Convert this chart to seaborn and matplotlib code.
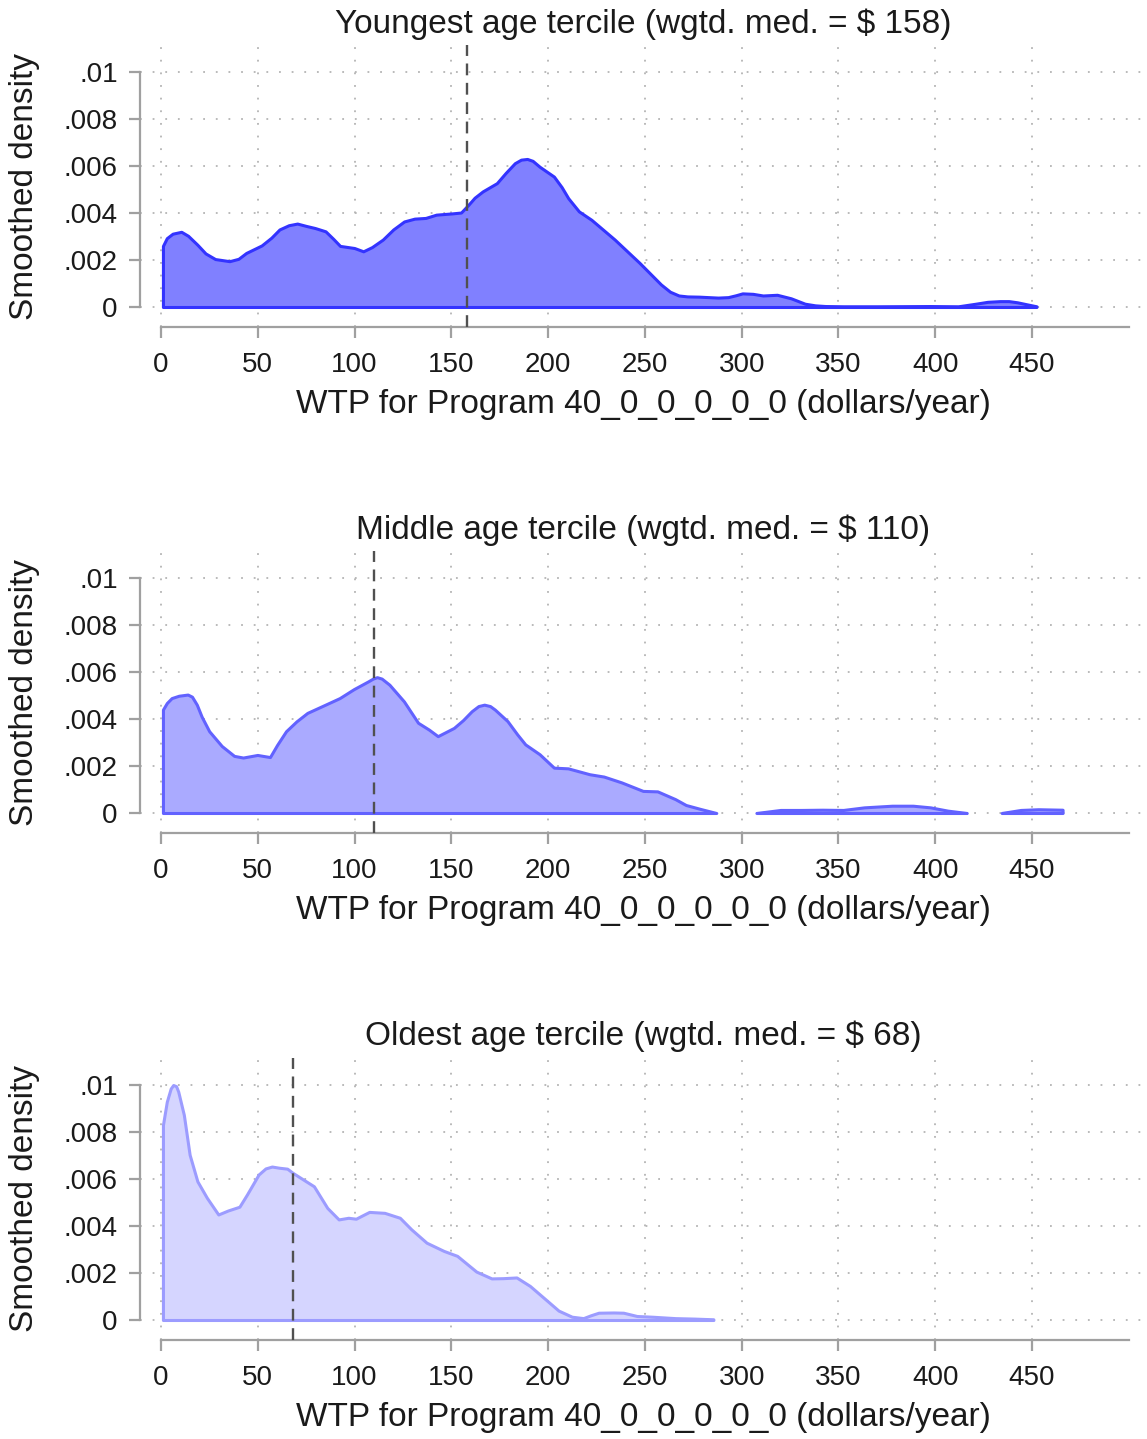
import numpy as np
import matplotlib
matplotlib.use("Agg")
import matplotlib.pyplot as plt
import seaborn as sns

# ---- data ----
young_x = [1, 3, 6, 10.5, 14, 18.8, 23, 28, 35.4, 40, 44, 52, 57, 61.2, 66, 70.4, 75, 79.6,
           85, 89, 92.5, 99.9, 104.5, 109, 114.6, 120, 125.6, 131, 136.7, 142.2, 150, 155,
           158.8, 162, 166.2, 173.5, 178, 182.8, 186, 189.2, 192, 195.6, 203, 207, 210.4,
           215.9, 222.4, 234.4, 247.2, 258.3, 263, 267.5, 272, 278, 287.8, 293, 297, 300.4,
           305.8, 311, 318.3, 325.5, 332.7, 338, 343.5, 352.5, 370.5, 397.5, 411.9, 420.9,
           427, 433.5, 438, 442.4, 447, 452.3]
young_y = [0.0026, 0.00293, 0.00312, 0.0032, 0.00303, 0.00265, 0.00228, 0.00204, 0.00195,
           0.00205, 0.0023, 0.00262, 0.00295, 0.0033, 0.00348, 0.00355, 0.00345, 0.00336,
           0.00322, 0.0029, 0.0026, 0.00251, 0.00237, 0.00255, 0.00287, 0.0033, 0.00364,
           0.00376, 0.00379, 0.00393, 0.00398, 0.00402, 0.00435, 0.00465, 0.00492, 0.00527,
           0.0057, 0.00612, 0.00627, 0.0063, 0.00622, 0.00597, 0.00555, 0.0051, 0.00463,
           0.00407, 0.00371, 0.00287, 0.00188, 0.00096, 0.00065, 0.00049, 0.00045, 0.00044,
           0.0004, 0.00042, 0.0005, 0.00058, 0.00056, 0.00049, 0.00052, 0.00037, 0.00014,
           0.00007, 0.00004, 0.00003, 0.00003, 0.00004, 0.00003, 0.00014, 0.00022, 0.00025,
           0.00025, 0.0002, 0.00012, 0.00003]

middle_x = [1, 3, 5.5, 9.2, 13.8, 16, 18.5, 21, 24.9, 31.4, 37.8, 42.4, 49.8, 56.3, 60,
            64.6, 70, 75.6, 84.9, 92.3, 99.6, 107, 109.5, 111.6, 114, 118, 125.5, 132.8,
            138.4, 143, 151.3, 156, 160.5, 164, 167, 170, 172.5, 179, 184, 188.2, 195.6,
            203, 210.3, 221.4, 228.8, 238, 249, 256.5, 265.7, 271.2, 278.8, 286.9, 297,
            307.6, 320.1, 330.9, 341.7, 352.5, 363.3, 377.7, 388.5, 397.5, 406.5, 416.3, 425,
            434.3, 444.2, 453.2, 465.8]
middle_y = [0.0044, 0.00468, 0.00489, 0.00499, 0.00504, 0.00495, 0.00461, 0.0041, 0.00348,
            0.00285, 0.00243, 0.00236, 0.00247, 0.00238, 0.0029, 0.00348, 0.0039, 0.00426,
            0.00461, 0.00489, 0.00527, 0.0056, 0.00572, 0.00578, 0.00572, 0.00546, 0.00475,
            0.00384, 0.00355, 0.00327, 0.00362, 0.00395, 0.00433, 0.00455, 0.00461, 0.00455,
            0.0044, 0.00391, 0.00335, 0.00292, 0.0025, 0.00193, 0.0019, 0.00165, 0.00155,
            0.0013, 0.00094, 0.00092, 0.00059, 0.00034, 0.00017, 0.0, np.nan,
            0.0, 0.00013, 0.00013, 0.00014, 0.00013, 0.00024, 0.00031, 0.00031, 0.00024,
            0.0001, 0.0, np.nan,
            0.0, 0.00013, 0.00016, 0.00014]

oldest_x = [1, 3, 5, 6.3, 7.8, 8.9, 11.8, 14.8, 18.8, 23.7, 29.6, 34.6, 40.5, 44.4, 50.4,
            54, 57.3, 61, 65.2, 68.1, 72.1, 79, 85.9, 91.8, 96.8, 100.7, 104, 107.6, 115.5,
            123.4, 129.3, 137.2, 146.1, 153, 162.9, 170.8, 176.7, 183.7, 190.6, 198.5, 205.4,
            212.3, 218.2, 222, 226.1, 233.9, 238.9, 245.9, 253.8, 265.6, 275.5, 285.4]
oldest_y = [0.0083, 0.00929, 0.00985, 0.0100, 0.00995, 0.00972, 0.00873, 0.00703, 0.0059,
            0.0052, 0.00449, 0.00466, 0.00482, 0.00534, 0.00619, 0.00645, 0.00653, 0.00648,
            0.00644, 0.00626, 0.00605, 0.00569, 0.00477, 0.00428, 0.00435, 0.00431, 0.00445,
            0.0046, 0.00456, 0.00435, 0.00386, 0.00329, 0.00294, 0.00273, 0.00206, 0.00177,
            0.00178, 0.00181, 0.00145, 0.00089, 0.0004, 0.00014, 0.00008, 0.0002, 0.00031,
            0.00032, 0.00031, 0.00017, 0.00014, 0.00008, 0.00006, 0.00003]

titles = ["Youngest age tercile (wgtd. med. = $ 158)",
          "Middle age tercile (wgtd. med. = $ 110)",
          "Oldest age tercile (wgtd. med. = $ 68)"]
medians = [158, 110, 68]
x_ticks = [0, 50, 100, 150, 200, 250, 300, 350, 400, 450]
y_ticks = [0, 0.002, 0.004, 0.006, 0.008, 0.01]
y_ticklabels = ["0", ".002", ".004", ".006", ".008", ".01"]
x_label = "WTP for Program 40_0_0_0_0_0 (dollars/year)"
y_label = "Smoothed density"

fills = ["#8080FF", "#AAAAFF", "#D5D5FF"]
edges = ["#3333FF", "#6262FF", "#9C9CFF"]

# ---- drawing ----
sns.set_theme(style="white")
plt.rcParams["font.family"] = ["Liberation Sans", "DejaVu Sans"]
plt.rcParams["path.simplify"] = False

W, H = 1147, 1439
fig = plt.figure(figsize=(W / 100, H / 100), dpi=100)

px_per_x = (1032 - 161) / 450.0
px_per_y = 235 / 0.01
grid_c = "#B4B4B4"
axis_c = "#A0A0A0"
txt_c = "#1A1A1A"

series = [(young_x, young_y), (middle_x, middle_y), (oldest_x, oldest_y)]
base_rows = [307, 813, 1320]

for i, ((xs, ys), base) in enumerate(zip(series, base_rows)):
    top_px = base - 262
    bot_px = base + 20
    left_px, right_px = 140, 1147
    ax = fig.add_axes([left_px / W, 1 - bot_px / H, (right_px - left_px) / W,
                       (bot_px - top_px) / H])
    xl = (left_px - 161) / px_per_x
    xr = (right_px - 161) / px_per_x
    ax.set_xlim(xl, xr)
    ax.set_ylim(-(bot_px - base) / px_per_y, (base - top_px) / px_per_y)

    # grid
    for xv in x_ticks:
        ax.axvline(xv, color=grid_c, lw=1.3, ls=(0, (1, 6)), zorder=0)
    for yv in y_ticks:
        ax.axhline(yv, color=grid_c, lw=1.3, ls=(0, (1, 6)), zorder=0)

    xa = np.asarray(xs, dtype=float)
    ya = np.asarray(ys, dtype=float)
    seg_ids = np.cumsum(np.isnan(ya))
    for s in np.unique(seg_ids):
        m = (seg_ids == s) & ~np.isnan(ya)
        if m.sum() < 2:
            continue
        ax.fill_between(xa[m], 0, ya[m], facecolor=fills[i], edgecolor=edges[i],
                        linewidth=2.2, joinstyle="round", zorder=2)

    ax.axvline(medians[i], color="#505050", lw=1.7, ls=(0, (5, 3.2)), zorder=3)

    for sp in ["top", "right"]:
        ax.spines[sp].set_visible(False)
    ax.spines["bottom"].set_bounds(0, 500)
    ax.spines["left"].set_bounds(0, 0.01)
    for sp in ["bottom", "left"]:
        ax.spines[sp].set_color(axis_c)
        ax.spines[sp].set_linewidth(1.6)

    ax.set_xticks(x_ticks)
    ax.set_xticklabels([str(v) for v in x_ticks], fontsize=20, color=txt_c)
    ax.set_yticks(y_ticks)
    ax.set_yticklabels(y_ticklabels, fontsize=20, color=txt_c)
    ax.tick_params(axis="both", length=8, width=1.6, color=axis_c, direction="out",
                   bottom=True, left=True)
    ax.tick_params(axis="x", pad=10)
    ax.tick_params(axis="y", pad=8)
    ax.set_xlabel(x_label, fontsize=24, labelpad=8, color=txt_c)
    ax.set_ylabel(y_label, fontsize=24, color=txt_c)
    ax.yaxis.set_label_coords((40 - left_px) / (right_px - left_px), 0.5)
    ax.set_title(titles[i], fontsize=24, pad=9, color=txt_c)
    ax.set_facecolor("white")

fig.savefig("out.png", dpi=100, facecolor="white")
